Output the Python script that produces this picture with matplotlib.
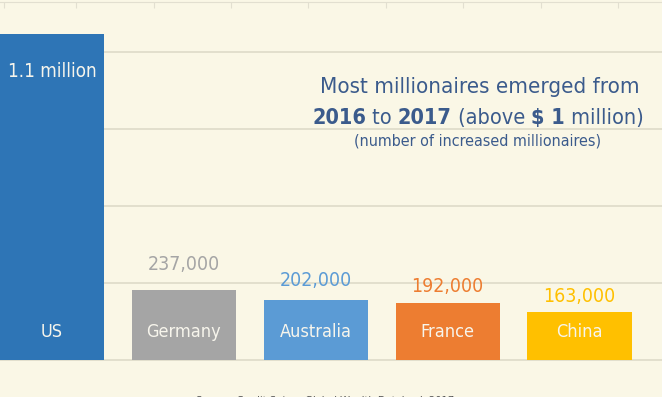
import numpy as np
import matplotlib
matplotlib.use("Agg")
import matplotlib.pyplot as plt

# data (millions of new millionaires, 2016 -> 2017)
countries = ["US", "Germany", "Australia", "France", "China"]
values = [1.1, 0.237, 0.202, 0.192, 0.163]
value_labels = ["1.1 million", "237,000", "202,000", "192,000", "163,000"]
bar_colors = ["#2e75b6", "#a5a5a5", "#5b9bd5", "#ed7d31", "#ffc000"]
grid_levels = [0.26, 0.52, 0.78, 1.04]

# pixel gap between bar top and its value label
label_gaps = [25, 20, 17, 15]

plt.rcParams['font.family'] = ['DejaVu Sans']
plt.rcParams['font.stretch'] = 'condensed'
bg = "#faf7e6"
title_col = "#3b5b8c"

fig = plt.figure(figsize=(6.62, 3.97), dpi=100, facecolor=bg)
ax = fig.add_axes([0, 0, 1, 1])
ax.set_facecolor(bg)

x = np.arange(len(countries))
ax.set_xlim(-0.394, 4.625)
ax.set_ylim(-0.12485, 1.2147)

for g in [0] + grid_levels:
    ax.axhline(g, color="#dedbc9", lw=1.2, zorder=0)

bars = ax.bar(x, values, width=0.79, color=bar_colors, zorder=2)

# names inside bars
for xi, name in zip(x, countries):
    ax.text(xi, 0.093, name, ha="center", va="center", color="#f7f5ec",
            fontsize=13, zorder=3)

# value labels
ax.text(x[0], 0.975, value_labels[0], ha="center", va="center",
        color="#f7f5ec", fontsize=13.5, zorder=3)
for xi, v, lab, c, gap in zip(x[1:], values[1:], value_labels[1:],
                              bar_colors[1:], label_gaps):
    ax.annotate(lab, (xi, v), xytext=(0, gap), textcoords="offset pixels",
                ha="center", va="center", color=c, fontsize=14, zorder=3)

# top frame line with small ticks
for s in ["left", "right", "bottom"]:
    ax.spines[s].set_visible(False)
ax.spines["top"].set_position(("data", 1.208))
ax.spines["top"].set_color("#e2dfd0")
ax.xaxis.tick_top()
ax.set_xticks([-0.36] + list(0.1856 + 0.5864 * np.arange(8)))
ax.set_xticklabels([])
ax.tick_params(axis="x", direction="in", length=4, color="#e2dfd0")
ax.set_yticks([])

# title block
ax.annotate("Most millionaires emerged from", (480, 304),
            xycoords="figure pixels", ha="center", va="baseline",
            fontsize=16, color=title_col)
t = ax.annotate("2016", (312, 273), xycoords="figure pixels",
                ha="left", va="baseline", fontsize=15.6, color=title_col,
                fontweight="bold")
pieces = [(" to ", "normal"), ("2017", "bold"), (" (above ", "normal"),
          ("$ 1", "bold"), (" million)", "normal")]
for txt, w in pieces:
    t = ax.annotate(txt, (1, 0), xycoords=t, ha="left", va="bottom",
                    fontsize=15.6, color=title_col, fontweight=w)
ax.annotate("(number of increased millionaires)", (478, 252),
            xycoords="figure pixels", ha="center", va="baseline",
            fontsize=11.5, color=title_col)

fig.text(196 / 662, 1.5 / 397,
         "Source: Credit Suisse Global Wealth Databook 2017",
         ha="left", va="top", fontsize=8, color="#555555")

fig.savefig("out.png", dpi=100, facecolor=bg)
